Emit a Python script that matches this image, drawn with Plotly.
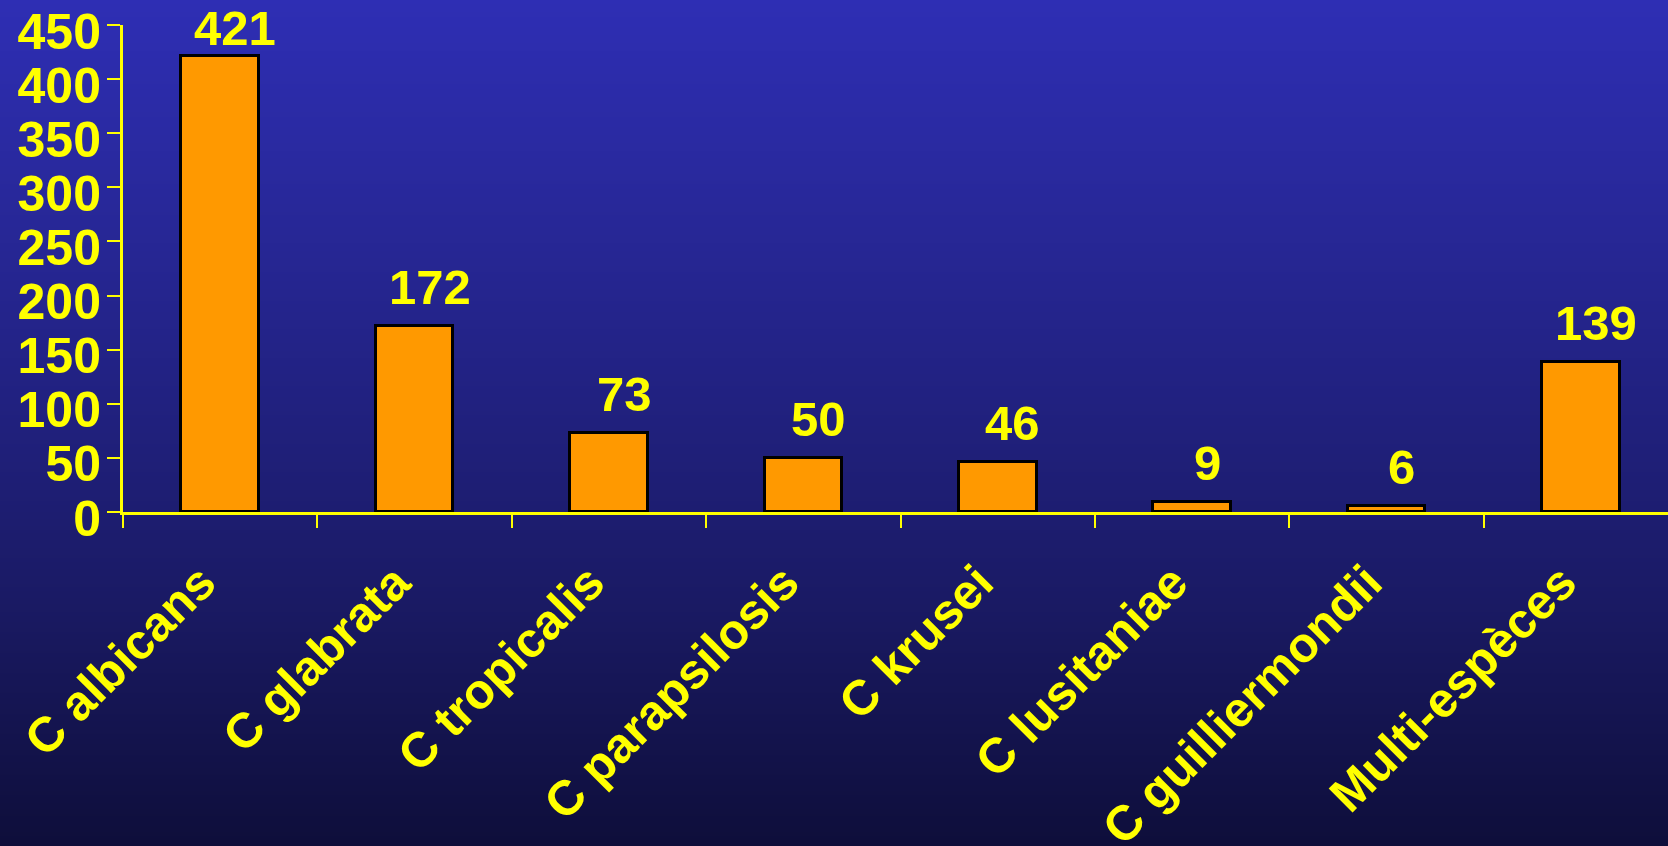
import plotly.graph_objects as go

categories = ["C albicans", "C glabrata", "C tropicalis", "C parapsilosis",
              "C krusei", "C lusitaniae", "C guilliermondii", "Multi-espèces"]
counts = [421, 172, 73, 50, 46, 9, 6, 139]
y_ticks = [0, 50, 100, 150, 200, 250, 300, 350, 400, 450]

W, H = 1668, 846
FONT = "Arial, Liberation Sans, sans-serif"
YEL = "#FFFF00"

# background gradient (bottom -> top)
grad_pos = [0.0, 0.29, 0.527, 0.764, 1.0]
grad_col = ["rgb(14,14,58)", "rgb(26,26,100)", "rgb(33,33,128)", "rgb(40,40,154)", "rgb(46,46,180)"]

fig = go.Figure()
fig.add_trace(go.Heatmap(
    x=[0, 1], y=grad_pos, z=[[p, p] for p in grad_pos],
    zmin=0, zmax=1, zsmooth="best", showscale=False, hoverinfo="skip",
    colorscale=[[p, c] for p, c in zip(grad_pos, grad_col)],
    xaxis="x", yaxis="y"))

fig.add_trace(go.Bar(
    x=categories, y=counts, width=0.4,
    marker=dict(color="#FF9900", line=dict(color="#000000", width=3)),
    xaxis="x2", yaxis="y2", hoverinfo="skip"))

for c, v in zip(categories, counts):
    fig.add_annotation(
        x=c, y=v, xref="x2", yref="y2", text=str(v), showarrow=False,
        xanchor="center", yanchor="bottom", xshift=15, yshift=(10 if v < 400 else -1),
        font=dict(family=FONT, size=49, color=YEL, weight="bold"))

left_px, top_px, bottom_px = 123, 25, 512
fig.update_layout(
    width=W, height=H, margin=dict(l=0, r=0, t=0, b=0, autoexpand=False),
    paper_bgcolor="rgb(15,15,60)", plot_bgcolor="rgba(0,0,0,0)",
    showlegend=False, bargap=0,
    xaxis=dict(domain=[0, 1], range=[0, 1], visible=False, fixedrange=True, automargin=False),
    yaxis=dict(domain=[0, 1], range=[0, 1], visible=False, fixedrange=True, automargin=False),
    xaxis2=dict(
        domain=[left_px / W, 1], anchor="y2", automargin=False,
        range=[-0.5, -0.5 + (W - left_px) / 194.4],
        showline=True, linecolor=YEL, linewidth=3, showgrid=False, zeroline=False,
        ticks="outside", tickson="boundaries", ticklen=13, tickwidth=2, tickcolor=YEL,
        tickangle=-45, ticklabelstandoff=19, ticklabelshift=-19, ticklabeloverflow="allow",
        tickfont=dict(family=FONT, size=49, color=YEL, weight="bold")),
    yaxis2=dict(
        domain=[(H - bottom_px) / H, (H - top_px) / H], anchor="x2", automargin=False,
        range=[0, 450], tickvals=y_ticks, ticklabeloverflow="allow",
        ticklabelstandoff=-4, ticklabelshift=6,
        showline=True, linecolor=YEL, linewidth=3, showgrid=False, zeroline=False,
        ticks="outside", ticklen=13, tickwidth=2, tickcolor=YEL,
        tickfont=dict(family=FONT, size=50, color=YEL, weight="bold")),
)

fig.write_html("out.html")
